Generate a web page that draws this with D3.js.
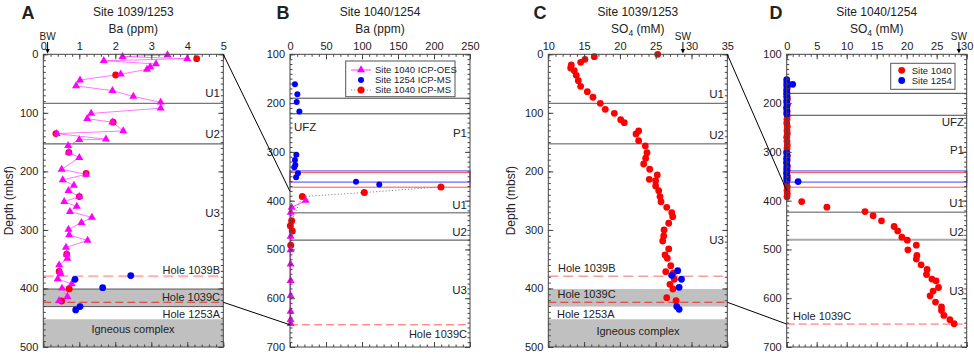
<!DOCTYPE html>
<html><head><meta charset="utf-8">
<script src="https://cdn.jsdelivr.net/npm/d3@7"></script>
<style>body{margin:0;background:#fff}svg{display:block}text{font-family:"Liberation Sans",Arial,Helvetica,sans-serif;fill:#222}</style>
</head><body><svg id="c" width="974" height="355"></svg>
<script>
// ---------- DATA ----------
// Panel A: Site 1039/1253, Ba (ppm)
const aOesDepth = [1,4,7.5,11,16.5,21.7,25.7,34,44,54,62,72,82,92,101,110,116,131,135.5,145,146,156,167.5,176.5,196.5,205,214.7,224,233,243,251.7,260,268.8,278.5,287.5,299,308.6,318,330,341.6,348.5,360,371,374.6,383.8,392.3,399.7,414,420.8];
const aOesBa    = [3.45,2.20,4.0,1.68,3.13,2.97,2.88,2.15,1.02,0.91,1.92,2.5,3.26,3.26,1.33,1.22,1.92,2.22,0.37,1.74,1.0,0.69,0.71,1.0,0.51,1.19,0.54,0.85,0.70,1.0,0.58,0.93,0.74,1.35,1.06,0.70,0.72,1.23,0.63,0.65,0.67,0.44,0.46,0.48,0.40,0.79,0.52,0.67,0.44];
const aMsDepth  = [7.5,35.4,116,135.5,167.5,203.5,243,341.6,371,400.8,421.4];
const aMsBa     = [4.26,2.01,1.94,0.35,0.71,1.19,1.0,0.65,0.44,0.72,0.51];
const a1253Depth = [378,384.4,398.6,431,436.7];
const a1253Ba    = [2.43,0.88,1.65,1.02,0.9];
// Panel B: Site 1040/1254, Ba (ppm)
const bOesDepth = [399.8,414,424,473.5,501,530,564,595,627,644,652];
const bOesBa    = [21.8,2.3,1,0.8,0.8,0.8,0.8,0.8,0.8,0.8,0.8];
const bMsDepth  = [371.8,383.4,391.6,441.4,451.6,462,491.2];
const bMsBa     = [209.7,103.2,17.1,2.3,0.5,3.2,1];
const b1254Depth = [161.5,182,197.7,217.5,306,316.6,326.8,331.5,343.7,352,361.5,367];
const b1254Ba    = [6.9,10.2,9.3,13,8.8,6.9,7.4,6,11,8.5,91.7,124];
// Panel C: Site 1039/1253, SO4 (mM)
const c1039Depth = [0,4,8.6,13.7,18.3,23.4,28,36,45,54.7,63.8,73.4,83.7,94,100.8,111.7,116.8,131,136,147.5,156.6,168,177.6,187.4,196.4,206,213.5,216,225,233,243,251.7,261.4,270.5,277.3,288.6,300,310.3,318.9,332.5,342.8,348.4,361,371.3,374,384.3,392.9,400.9,415.7,420.8];
const c1039SO4   = [25.28,16.42,15.12,14.52,13.21,13.12,13.63,13.91,14.19,14.52,15.45,16.24,17.26,17.96,19.22,20.11,20.61,22.62,22.25,22.62,23.55,23.78,23.6,23.32,24.16,25.22,24.1,24.99,24.99,25.42,25.6,25.74,26.54,27.24,27.38,26.82,26.17,26.12,25.98,26.82,26.3,26.62,27.1,26.4,27.45,27.6,26.99,27.4,26.54,27.84];
const c1253Depth = [369.6,377.5,384.3,398,431,435.6];
const c1253SO4   = [28.07,27.23,28.6,28.27,27.94,28.27];
// Panel D: Site 1040/1254, SO4 (mM)
const d1040Depth = [158,165,172,180,188,195,203,210,218,226,233,241,248,256,263,270,278,286,293,300,308,315,322,330,337,344,352,358,366,372,379,386,392,401.8,413.4,422.3,431,441.4,453,462,474.8,481,491.2,500.8,512.4,519.8,531.5,541,551.4,560.8,564.3,578,585.4,595,608,618,625,635.3,644,652.3];
const d1040SO4   = [0.05,0.1,0.05,0,0.1,0.05,0.1,0,0.05,0.1,0.05,0,0.1,0.05,0.1,0,0.05,0.1,0.05,0,0.1,0.05,0,0.1,0.05,0,0.1,0.05,0,0.1,0.05,0.1,0.05,2.5,6.7,13.05,14.4,15.8,17.9,18.5,19.2,20.1,21.6,20.2,21.7,21.6,22.4,23.4,23.3,24.2,24.9,25.3,24.4,23.9,24.8,25.8,25.8,26.2,27.2,27.9];
const d1254Depth = [152,158,163,168,174,180,186,192,198,204,210,216,222,302,308,313,318,323,328,333,338,343,348,353,358,161.5,361];
const d1254SO4   = [0,0.05,0,0.05,0,0.05,0,0.05,0,0.05,0,0.05,0,0,0.05,0,0.05,0,0.05,0,0.05,0,0.05,0,0.05,1.0,1.9];

// tick labels / text
const aXTicks = [0,1,2,3,4,5], bXTicks = [0,50,100,150,200,250], cXTicks = [10,15,20,25,30,35], dXTicks = [0,5,10,15,20,25,30];
const shallowYTicks = [0,100,200,300,400,500], deepYTicks = [100,200,300,400,500,600,700];
const legendB = ["Site 1040 ICP-OES","Site 1254 ICP-MS","Site 1040 ICP-MS"];
const legendD = ["Site 1040","Site 1254"];

// ---------- DRAW ----------
const svg = d3.select("#c");
const Y0 = 54.3, Y1 = 347;
const MAG = "#ff00ff", RED = "#ff0000", BLUE = "#0000ff";
const pts = (xs, ys) => xs.map((v,i)=>({v, d: ys[i]}));

function makePanel(cfg){
  const x = d3.scaleLinear().domain(cfg.xd).range([cfg.x0, cfg.x1]);
  const y = d3.scaleLinear().domain(cfg.yd).range([Y0, Y1]);
  const g = svg.append("g");
  cfg.x = x; cfg.y = y; cfg.g = g;
  return cfg;
}
function frameAndAxes(p, xt, yt, xMinorStep, yMinorStep){
  const {x,y,g} = p;
  const xMinor = d3.range(p.xd[0], p.xd[1]+1e-9, xMinorStep);
  const yMinor = d3.range(p.yd[0], p.yd[1]+1e-9, yMinorStep);
  const ax = g.append("g");
  const add = (tr, axis) => { const s = ax.append("g").attr("transform", tr).call(axis); s.select(".domain").remove(); s.selectAll("line").attr("stroke","#444"); s.selectAll("text").attr("font-size",11).attr("fill","#222").attr("font-family","Liberation Sans, Arial, sans-serif"); return s; };
  add(`translate(0,${Y0})`, d3.axisTop(x).tickValues(xMinor).tickSizeInner(-2.5).tickSizeOuter(0).tickFormat(""));
  add(`translate(0,${Y0})`, d3.axisTop(x).tickValues(xt).tickSizeInner(-5).tickSizeOuter(0).tickPadding(4).tickFormat(d3.format("d")));
  add(`translate(0,${Y1})`, d3.axisBottom(x).tickValues(xMinor).tickSizeInner(-2.5).tickSizeOuter(0).tickFormat(""));
  add(`translate(0,${Y1})`, d3.axisBottom(x).tickValues(xt).tickSizeInner(-5).tickSizeOuter(0).tickFormat(""));
  add(`translate(${p.x0},0)`, d3.axisLeft(y).tickValues(yMinor).tickSizeInner(-2.5).tickSizeOuter(0).tickFormat(""));
  add(`translate(${p.x0},0)`, d3.axisLeft(y).tickValues(yt).tickSizeInner(-5).tickSizeOuter(0).tickPadding(5).tickFormat(d3.format("d")));
  add(`translate(${p.x1},0)`, d3.axisRight(y).tickValues(yMinor).tickSizeInner(-2.5).tickSizeOuter(0).tickFormat(""));
  add(`translate(${p.x1},0)`, d3.axisRight(y).tickValues(yt).tickSizeInner(-5).tickSizeOuter(0).tickFormat(""));
  g.append("rect").attr("x",p.x0).attr("y",Y0).attr("width",p.x1-p.x0).attr("height",Y1-Y0).attr("fill","none").attr("stroke","#444").attr("stroke-width",1);
}
function hline(p, d, color, w, dash){
  const l = p.g.append("line").attr("x1",p.x0).attr("x2",p.x1).attr("y1",p.y(d)).attr("y2",p.y(d)).attr("stroke",color).attr("stroke-width",w);
  if (dash) l.attr("stroke-dasharray",dash);
}
function band(p, d0, d1, fill){
  p.g.append("rect").attr("x",p.x0).attr("width",p.x1-p.x0).attr("y",p.y(d0)).attr("height",p.y(d1)-p.y(d0)).attr("fill",fill);
}
function rectOutline(p, d0, d1, color, w){
  p.g.append("rect").attr("x",p.x0).attr("width",p.x1-p.x0).attr("y",p.y(d0)).attr("height",p.y(d1)-p.y(d0)).attr("fill","none").attr("stroke",color).attr("stroke-width",w);
}
function label(p, txt, xpx, d, anchor, size){
  p.g.append("text").attr("x",xpx).attr("y",p.y(d)).attr("dy","0.35em").attr("text-anchor",anchor).attr("font-size",size||11.5).text(txt);
}
function circles(p, data, color, r){
  p.g.append("g").selectAll("circle").data(data).join("circle").attr("cx",d=>p.x(d.v)).attr("cy",d=>p.y(d.d)).attr("r",r).attr("fill",color);
}
function tris(p, data, color, size){
  const sym = d3.symbol(d3.symbolTriangle, size);
  p.g.append("g").selectAll("path").data(data).join("path").attr("d",sym).attr("transform",d=>`translate(${p.x(d.v)},${p.y(d.d)})`).attr("fill",color);
}
function pathLine(p, data, color, w, dash){
  const ln = d3.line().x(d=>p.x(d.v)).y(d=>p.y(d.d));
  const e = p.g.append("path").attr("d",ln(data)).attr("fill","none").attr("stroke",color).attr("stroke-width",w);
  if (dash) e.attr("stroke-dasharray",dash);
}
function titles(p, letter, letterX, site, unit, sub){
  const cx = (p.x0+p.x1)/2;
  svg.append("text").attr("x",letterX).attr("y",18.5).attr("text-anchor","middle").attr("font-size",18).attr("font-weight","bold").attr("fill","#000").text(letter);
  svg.append("text").attr("x",cx).attr("y",16).attr("text-anchor","middle").attr("font-size",12).text(site);
  const t = svg.append("text").attr("x",cx).attr("y",33).attr("text-anchor","middle").attr("font-size",12);
  if (sub){ t.append("tspan").text(unit[0]); t.append("tspan").attr("font-size",8.5).attr("dy",3).text(sub); t.append("tspan").attr("dy",-3).text(unit[1]); }
  else t.text(unit);
}
function marker(p, v, txt){
  const xx = p.x(v);
  svg.append("text").attr("x",xx).attr("y",39.5).attr("text-anchor","middle").attr("font-size",10).text(txt);
  svg.append("line").attr("x1",xx).attr("x2",xx).attr("y1",42).attr("y2",52).attr("stroke","#000").attr("stroke-width",1);
  svg.append("path").attr("d",`M${xx-2.2},${49} L${xx+2.2},${49} L${xx},${53.5} Z`).attr("fill","#000");
}
function yTitle(xpx){
  svg.append("text").attr("transform",`translate(${xpx},${(Y0+Y1)/2}) rotate(-90)`).attr("dy","0.35em").attr("text-anchor","middle").attr("font-size",12).text("Depth (mbsf)");
}

// Panel A
const A = makePanel({x0:43.3, x1:223.3, xd:[0,5], yd:[0,500]});
band(A, 401, 431, "#c0c0c0"); band(A, 452.6, 500, "#c0c0c0");
hline(A, 401, "#555", 1); hline(A, 431, "#555", 1);
hline(A, 83.7, "#555", 1); hline(A, 153, "#666", 1.2);
hline(A, 379, "#ffb0b0", 2, "10,5");
hline(A, 423.6, "#e03030", 1, "8,4");
label(A, "U1", 220, 65.6, "end"); label(A, "U2", 220, 136, "end"); label(A, "U3", 220, 270.5, "end");
label(A, "Hole 1039B", 220, 368, "end", 11); label(A, "Hole 1039C", 220, 414, "end", 11);
label(A, "Hole 1253A", 220, 443.5, "end", 11); label(A, "Igneous complex", 133, 469.7, "middle", 11);
pathLine(A, pts(aOesBa, aOesDepth), "#ff55ff", 0.8);
circles(A, pts(aMsBa, aMsDepth), RED, 3.4);
tris(A, pts(aOesBa, aOesDepth), MAG, 28);
circles(A, pts(a1253Ba, a1253Depth), BLUE, 3.4);
frameAndAxes(A, aXTicks, shallowYTicks, 0.2, 10);
titles(A, "A", 28, "Site 1039/1253", "Ba (ppm)");
marker(A, 0.12, "BW");
yTitle(9);

// Panel B
const B = makePanel({x0:290, x1:470, xd:[0,250], yd:[100,700]});
hline(B, 190, "#444", 1); hline(B, 222, "#444", 1);
hline(B, 425, "#555", 1); hline(B, 481, "#666", 1.2);
rectOutline(B, 339, 362, "#8080ff", 1.5);
rectOutline(B, 342.5, 372.4, "#ff5050", 1);
hline(B, 654.5, "#ff6060", 1, "8,4");
label(B, "UFZ", 294, 248, "start"); label(B, "P1", 467, 260.5, "end");
label(B, "U1", 467, 408.6, "end"); label(B, "U2", 467, 464.5, "end"); label(B, "U3", 467, 582.7, "end");
label(B, "Hole 1039C", 467, 673.4, "end", 11);
pathLine(B, pts(bMsBa, bMsDepth), "#888", 1, "1.2,2");
pathLine(B, pts(bOesBa, bOesDepth), "#ff44ff", 1);
circles(B, pts(b1254Ba, b1254Depth), BLUE, 3);
circles(B, pts(bMsBa, bMsDepth), RED, 3.5);
tris(B, pts(bOesBa, bOesDepth), MAG, 28);
frameAndAxes(B, bXTicks, deepYTicks, 10, 10);
titles(B, "B", 283, "Site 1040/1254", "Ba (ppm)");
// legend B
{
  const lg = B.g.append("g");
  lg.append("rect").attr("x",345.7).attr("y",61).attr("width",109.3).attr("height",35.7).attr("fill","#fff").attr("stroke","#555");
  const ys = [70,80,90];
  lg.append("line").attr("x1",351).attr("x2",371).attr("y1",ys[0]).attr("y2",ys[0]).attr("stroke","#ff44ff");
  lg.append("path").attr("d",d3.symbol(d3.symbolTriangle,28)()).attr("transform",`translate(361,${ys[0]})`).attr("fill",MAG);
  lg.append("circle").attr("cx",361).attr("cy",ys[1]).attr("r",3).attr("fill",BLUE);
  lg.append("line").attr("x1",351).attr("x2",371).attr("y1",ys[2]).attr("y2",ys[2]).attr("stroke","#888").attr("stroke-dasharray","1.2,2");
  lg.append("circle").attr("cx",361).attr("cy",ys[2]).attr("r",3.5).attr("fill",RED);
  legendB.forEach((t,i)=> lg.append("text").attr("x",375).attr("y",ys[i]).attr("dy","0.35em").attr("font-size",9.5).text(t));
}

// Panel C
const C = makePanel({x0:548.3, x1:727.3, xd:[10,35], yd:[0,500]});
band(C, 401, 431, "#c0c0c0"); band(C, 452.6, 500, "#c0c0c0");
hline(C, 83.7, "#555", 1); hline(C, 153, "#555", 1);
hline(C, 379, "#f07070", 1, "10,5");
hline(C, 423.6, "#e03030", 1, "8,4");
label(C, "U1", 724, 68, "end"); label(C, "U2", 724, 138, "end"); label(C, "U3", 724, 318, "end");
label(C, "Hole 1039B", 558, 366, "start", 11); label(C, "Hole 1039C", 557.5, 410, "start", 11);
label(C, "Hole 1253A", 557, 443.5, "start", 11); label(C, "Igneous complex", 638, 473, "middle", 11);
circles(C, pts(c1039SO4, c1039Depth), RED, 3.4);
circles(C, pts(c1253SO4, c1253Depth), BLUE, 3.4);
frameAndAxes(C, cXTicks, shallowYTicks, 1, 10);
titles(C, "C", 540, "Site 1039/1253", ["SO","  (mM)"], "4");
marker(C, 28.8, "SW");
yTitle(511);

// Panel D
const D = makePanel({x0:786.7, x1:966.7, xd:[0,30], yd:[100,700]});
hline(D, 180, "#444", 1); hline(D, 225, "#444", 1);
hline(D, 423.6, "#555", 1); hline(D, 480.3, "#aaa", 2);
rectOutline(D, 339, 362, "#8080ff", 1.5);
rectOutline(D, 342.5, 372.4, "#ff5050", 1);
hline(D, 653, "#ff6060", 1, "8,4");
label(D, "UFZ", 964, 238, "end"); label(D, "P1", 964, 296, "end");
label(D, "U1", 964, 405, "end"); label(D, "U2", 964, 464, "end"); label(D, "U3", 964, 585, "end");
label(D, "Hole 1039C", 793, 637.4, "start", 11);
circles(D, pts(d1040SO4, d1040Depth), RED, 3.4);
circles(D, pts(d1254SO4, d1254Depth), BLUE, 3.4);
frameAndAxes(D, dXTicks, deepYTicks, 1, 10);
titles(D, "D", 776, "Site 1040/1254", ["SO","  (mM)"], "4");
marker(D, 28.7, "SW");
{
  const lg = D.g.append("g");
  lg.append("rect").attr("x",890.7).attr("y",63.3).attr("width",64.3).attr("height",26).attr("fill","#fff").attr("stroke","#555");
  const ys = [70.3,80.5];
  lg.append("circle").attr("cx",901.7).attr("cy",ys[0]).attr("r",3.4).attr("fill",RED);
  lg.append("circle").attr("cx",901.7).attr("cy",ys[1]).attr("r",3.4).attr("fill",BLUE);
  legendD.forEach((t,i)=> lg.append("text").attr("x",911.7).attr("y",ys[i]).attr("dy","0.35em").attr("font-size",9.5).text(t));
}

// connector lines between panels
function connector(p, q, dTopP, dTopQ, dBotP, dBotQ){
  svg.append("line").attr("x1",p.x1).attr("y1",p.y(dTopP)).attr("x2",q.x0).attr("y2",q.y(dTopQ)).attr("stroke","#000").attr("stroke-width",1);
  svg.append("line").attr("x1",p.x1).attr("y1",p.y(dBotP)).attr("x2",q.x0).attr("y2",q.y(dBotQ)).attr("stroke","#000").attr("stroke-width",1);
}
connector(A, B, 0, 381, 423.6, 654.5);
connector(C, D, 0, 379, 423.6, 653);
</script></body></html>
